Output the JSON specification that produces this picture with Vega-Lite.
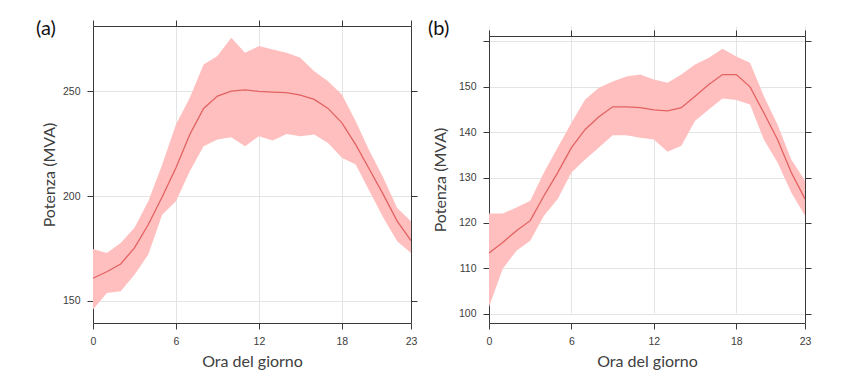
{
  "$schema": "https://vega.github.io/schema/vega-lite/v6.json",
  "background": "white",
  "padding": {"left": 36, "top": 18, "right": 5, "bottom": 5},
  "spacing": 10,
  "config": {
    "view": {"stroke": null},
    "axis": {
      "domainColor": "#3a3a3a",
      "domainWidth": 1,
      "tickColor": "#3a3a3a",
      "tickSize": 6,
      "labelFont": "Liberation Sans",
      "labelFontSize": 10.5,
      "labelColor": "#3c3c3c",
      "labelPadding": 7,
      "gridColor": "#e4e4e4",
      "titleFont": "Lato",
      "titleFontSize": 16,
      "titleFontWeight": "normal",
      "titleColor": "#404040"
    },
    "title": {"font": "Lato", "fontSize": 20, "fontWeight": "normal", "color": "#111111", "anchor": "start", "frame": "group", "baseline": "top", "offset": 0}
  },
  "datasets": {
    "a": [
      {"hour": 0, "mean": 160.7, "lo": 145.7, "hi": 174.7},
      {"hour": 1, "mean": 163.8, "lo": 153.7, "hi": 172.8},
      {"hour": 2, "mean": 167.5, "lo": 154.5, "hi": 177.6},
      {"hour": 3, "mean": 175.2, "lo": 162.4, "hi": 184.8},
      {"hour": 4, "mean": 186.4, "lo": 172.0, "hi": 197.5},
      {"hour": 5, "mean": 199.5, "lo": 191.1, "hi": 215.0},
      {"hour": 6, "mean": 213.5, "lo": 197.5, "hi": 234.2},
      {"hour": 7, "mean": 229.4, "lo": 211.9, "hi": 247.0},
      {"hour": 8, "mean": 241.9, "lo": 223.8, "hi": 262.9},
      {"hour": 9, "mean": 247.8, "lo": 227.0, "hi": 266.9},
      {"hour": 10, "mean": 250.2, "lo": 228.1, "hi": 275.7},
      {"hour": 11, "mean": 250.8, "lo": 223.8, "hi": 268.5},
      {"hour": 12, "mean": 250.0, "lo": 228.6, "hi": 271.7},
      {"hour": 13, "mean": 249.7, "lo": 226.6, "hi": 270.1},
      {"hour": 14, "mean": 249.4, "lo": 229.7, "hi": 268.5},
      {"hour": 15, "mean": 248.2, "lo": 228.6, "hi": 266.1},
      {"hour": 16, "mean": 246.2, "lo": 229.4, "hi": 259.7},
      {"hour": 17, "mean": 241.9, "lo": 225.4, "hi": 254.9},
      {"hour": 18, "mean": 235.0, "lo": 218.3, "hi": 248.6},
      {"hour": 19, "mean": 224.6, "lo": 215.1, "hi": 235.8},
      {"hour": 20, "mean": 212.7, "lo": 202.3, "hi": 221.5},
      {"hour": 21, "mean": 200.7, "lo": 189.6, "hi": 208.7},
      {"hour": 22, "mean": 188.0, "lo": 178.4, "hi": 194.3},
      {"hour": 23, "mean": 178.7, "lo": 172.8, "hi": 188.0}
    ],
    "b": [
      {"hour": 0, "mean": 113.4, "lo": 101.5, "hi": 122.1},
      {"hour": 1, "mean": 115.7, "lo": 109.9, "hi": 122.1},
      {"hour": 2, "mean": 118.3, "lo": 113.9, "hi": 123.4},
      {"hour": 3, "mean": 120.5, "lo": 116.1, "hi": 124.9},
      {"hour": 4, "mean": 126.0, "lo": 121.6, "hi": 131.1},
      {"hour": 5, "mean": 131.1, "lo": 125.3, "hi": 136.6},
      {"hour": 6, "mean": 136.6, "lo": 131.1, "hi": 142.1},
      {"hour": 7, "mean": 140.6, "lo": 134.0, "hi": 147.2},
      {"hour": 8, "mean": 143.4, "lo": 136.6, "hi": 149.8},
      {"hour": 9, "mean": 145.6, "lo": 139.3, "hi": 151.2},
      {"hour": 10, "mean": 145.6, "lo": 139.3, "hi": 152.3},
      {"hour": 11, "mean": 145.4, "lo": 138.8, "hi": 152.7},
      {"hour": 12, "mean": 144.9, "lo": 138.4, "hi": 151.6},
      {"hour": 13, "mean": 144.7, "lo": 135.7, "hi": 150.9},
      {"hour": 14, "mean": 145.4, "lo": 137.0, "hi": 152.7},
      {"hour": 15, "mean": 147.9, "lo": 142.5, "hi": 154.9},
      {"hour": 16, "mean": 150.5, "lo": 145.0, "hi": 156.4},
      {"hour": 17, "mean": 152.7, "lo": 147.4, "hi": 158.4},
      {"hour": 18, "mean": 152.7, "lo": 147.1, "hi": 156.7},
      {"hour": 19, "mean": 150.0, "lo": 146.1, "hi": 155.3},
      {"hour": 20, "mean": 144.3, "lo": 138.4, "hi": 148.0},
      {"hour": 21, "mean": 138.4, "lo": 133.3, "hi": 141.7},
      {"hour": 22, "mean": 131.1, "lo": 126.7, "hi": 134.0},
      {"hour": 23, "mean": 125.3, "lo": 121.6, "hi": 129.3}
    ]
  },
  "hconcat": [
    {
      "title": {"text": "(a)", "dx": -57, "dy": 23},
      "width": 318,
      "height": 297,
      "data": {"name": "a"},
      "resolve": {"axis": {"x": "independent", "y": "independent"}},
      "layer": [
        {
          "mark": {"type": "area", "color": "#ffbfbf", "opacity": 1},
          "encoding": {
            "x": {"field": "hour", "type": "quantitative", "scale": {"domain": [0, 23], "nice": false, "zero": false},
              "axis": {"orient": "bottom", "values": [0, 6, 12, 18, 23], "grid": true, "title": "Ora del giorno", "titlePadding": 7, "labelFlush": false}},
            "y": {"field": "lo", "type": "quantitative", "scale": {"domain": [139.3, 281.3], "nice": false, "zero": false},
              "axis": {"orient": "left", "values": [150, 200, 250], "grid": true, "title": "Potenza (MVA)", "titlePadding": 5}},
            "y2": {"field": "hi"}
          }
        },
        {
          "mark": {"type": "line", "color": "#e36262", "strokeWidth": 1.3},
          "encoding": {
            "x": {"field": "hour", "type": "quantitative",
              "axis": {"orient": "top", "values": [0, 6, 12, 18, 23], "grid": false, "labels": false, "title": null, "zindex": 1}},
            "y": {"field": "mean", "type": "quantitative",
              "axis": {"orient": "right", "values": [150, 200, 250], "grid": false, "labels": false, "title": null, "zindex": 1}}
          }
        }
      ]
    },
    {
      "title": {"text": "(b)", "dx": -61, "dy": 17},
      "width": 316,
      "height": 297,
      "data": {"name": "b"},
      "resolve": {"axis": {"x": "independent", "y": "independent"}},
      "layer": [
        {
          "mark": {"type": "area", "color": "#ffbfbf", "opacity": 1},
          "encoding": {
            "x": {"field": "hour", "type": "quantitative", "scale": {"domain": [0, 23], "nice": false, "zero": false},
              "axis": {"orient": "bottom", "values": [0, 6, 12, 18, 23], "grid": true, "title": "Ora del giorno", "titlePadding": 7, "labelFlush": false}},
            "y": {"field": "lo", "type": "quantitative", "scale": {"domain": [97.95, 161.2], "nice": false, "zero": false, "range": [297, 10]},
              "axis": {"orient": "left", "values": [100, 110, 120, 130, 140, 150, 160], "labelExpr": "datum.value == 160 ? '' : datum.label", "grid": true, "title": "Potenza (MVA)", "titlePadding": 10}},
            "y2": {"field": "hi"}
          }
        },
        {
          "mark": {"type": "line", "color": "#e36262", "strokeWidth": 1.3},
          "encoding": {
            "x": {"field": "hour", "type": "quantitative",
              "axis": {"orient": "top", "offset": -10, "values": [0, 6, 12, 18, 23], "grid": false, "labels": false, "title": null, "zindex": 1}},
            "y": {"field": "mean", "type": "quantitative",
              "axis": {"orient": "right", "values": [100, 110, 120, 130, 140, 150, 160], "grid": false, "labels": false, "title": null, "zindex": 1}}
          }
        }
      ]
    }
  ]
}
